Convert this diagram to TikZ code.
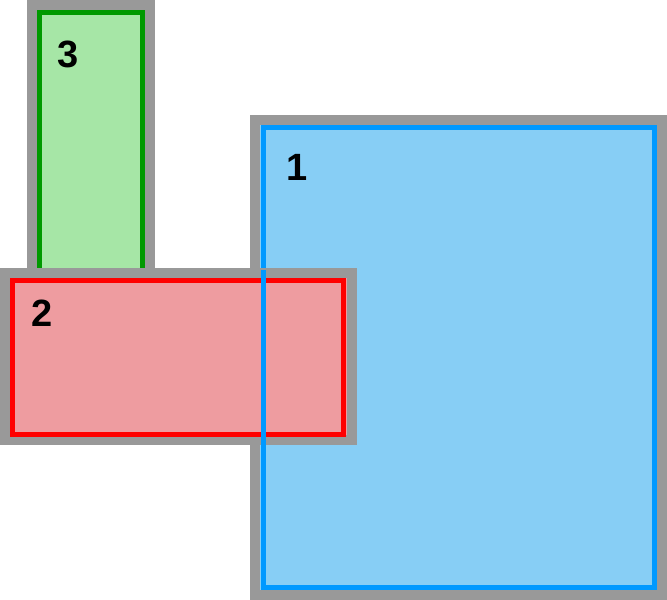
\documentclass[tikz,border=0pt]{standalone}
\usepackage{fontspec}
\setmainfont{Liberation Sans}
\definecolor{gr}{HTML}{999999}
\definecolor{bfill}{HTML}{87CEF5}
\definecolor{bline}{HTML}{0099FF}
\definecolor{rfill}{HTML}{EE9CA0}
\definecolor{gfill}{HTML}{A6E6A6}
\definecolor{gline}{HTML}{009900}
\tikzset{outer/.style={draw=gr,line width=10pt},inner/.style={line width=5pt},
lab/.style={font=\bfseries\fontsize{38}{38}\selectfont,anchor=center}}
\begin{document}
\begin{tikzpicture}[x=1pt,y=-1pt]
\useasboundingbox (0,0) rectangle (667,600);
% rect 1
\draw[outer,fill=bfill] (255,120) rectangle (662,595);
\draw[inner,draw=bline] (263.5,127.5) rectangle (654.5,587.5);
% rect 3
\draw[outer,fill=gfill] (32,5) rectangle (150,280);
\draw[inner,draw=gline] (39.5,12.5) rectangle (142.5,285);
% rect 2
\draw[outer,fill=rfill] (5,273) rectangle (352,440);
\draw[inner,draw=red] (12.5,280.5) rectangle (343.5,434.5);
% blue line on top
\draw[inner,draw=bline] (263.5,270) -- (263.5,445);
\node[lab] (n1) at (297,167) {1};
\node[lab] (n2) at (42,313) {2};
\node[lab] (n3) at (68,54) {3};
\end{tikzpicture}
\end{document}
